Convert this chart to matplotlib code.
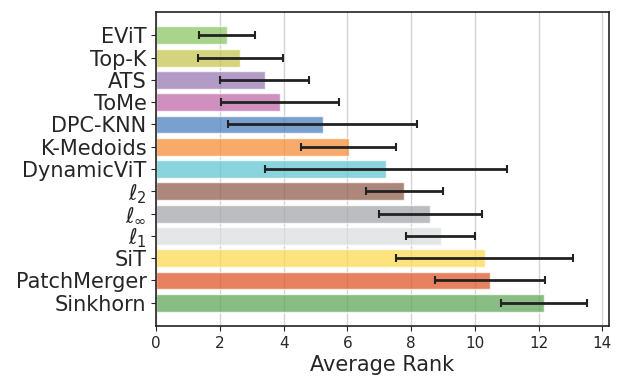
import numpy as np
import matplotlib
matplotlib.use("Agg")
import matplotlib.pyplot as plt
import seaborn as sns

methods = ["EViT", "Top-K", "ATS", "ToMe", "DPC-KNN", "K-Medoids", "DynamicViT",
           r"$\ell_2$", r"$\ell_\infty$", r"$\ell_1$", "SiT", "PatchMerger", "Sinkhorn"]
avg_rank = [2.22, 2.64, 3.40, 3.89, 5.23, 6.04, 7.20, 7.78, 8.60, 8.93, 10.31, 10.47, 12.17]
std_rank = [0.88, 1.33, 1.40, 1.85, 2.97, 1.50, 3.80, 1.21, 1.62, 1.09, 2.77, 1.72, 1.36]
# colours as they look on white
shown = ["#a8d48b", "#d6d47e", "#b39bc8", "#cf8fbf", "#7aa0cf", "#f8aa6b", "#8ad4de",
         "#ad877b", "#bcbdc0", "#e5e6e7", "#fde37d", "#e8815f", "#89bd84"]

ALPHA = 0.75


def base_color(hexc, a=ALPHA):
    rgb = np.array(matplotlib.colors.to_rgb(hexc))
    return tuple(np.clip((rgb - (1 - a)) / a, 0, 1))


sns.set_style("ticks")
fig, ax = plt.subplots(figsize=(6.2, 3.79), dpi=100)
fig.subplots_adjust(left=0.252, right=0.982, top=0.968, bottom=0.14)

y = np.arange(len(methods))
ax.grid(axis="x", color="#c8c8c8", linewidth=1.0, alpha=0.8, zorder=0)
ax.barh(y, avg_rank, height=0.8, color=[base_color(c) for c in shown], alpha=ALPHA, zorder=2)
ax.errorbar(avg_rank, y, xerr=std_rank, fmt="none", ecolor="#222222", elinewidth=2,
            capsize=3, capthick=1.5, zorder=3)

ax.set_yticks(y)
ax.set_yticklabels(methods, fontsize=15)
ax.invert_yaxis()
ax.set_xticks(np.arange(0, 15, 2))
ax.tick_params(axis="x", labelsize=11)
ax.set_xlabel("Average Rank", fontsize=15, labelpad=3)
for s in ax.spines.values():
    s.set_color("#222222")
    s.set_linewidth(1.2)

fig.savefig("out.png", dpi=100)
